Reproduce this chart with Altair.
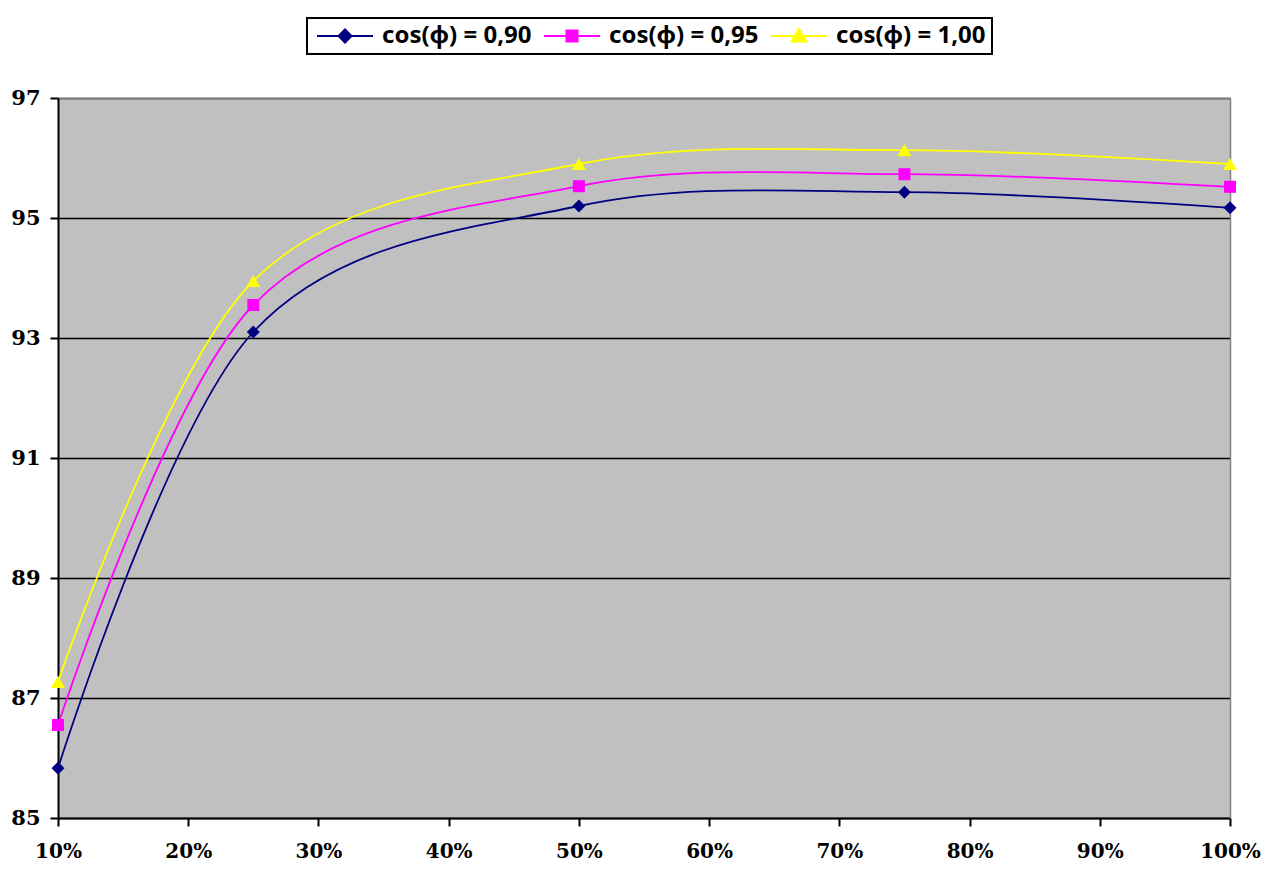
import altair as alt
import pandas as pd

# ---- data ----
load = [0.10, 0.25, 0.50, 0.75, 1.00]
series_names = ["cos(φ) = 0,90", "cos(φ) = 0,95", "cos(φ) = 1,00"]
eff_090 = [85.83, 93.10, 95.20, 95.43, 95.17]
eff_095 = [86.55, 93.55, 95.53, 95.73, 95.52]
eff_100 = [87.27, 93.95, 95.90, 96.13, 95.90]
colors = ["#000080", "#FF00FF", "#FFFF00"]
x_ticks = [0.1, 0.2, 0.3, 0.4, 0.5, 0.6, 0.7, 0.8, 0.9, 1.0]
y_ticks = [85, 87, 89, 91, 93, 95, 97]

rows = []
for name, vals in zip(series_names, [eff_090, eff_095, eff_100]):
    for xv, yv in zip(load, vals):
        rows.append({"series": name, "x": xv, "y": yv})
df = pd.DataFrame(rows)

marker_shapes = ["diamond", "square", "triangle-up"]
marker_sizes = [170, 144, 200]
legend_paths = [
    "M-2.8,0H2.8M0,-0.65L0.65,0L0,0.65L-0.65,0Z",
    "M-2.8,0H2.8M-0.55,-0.55H0.55V0.55H-0.55Z",
    "M-2.8,0H2.8M0,-0.7L0.75,0.55H-0.75Z",
]

tick_font = "DejaVu Serif"
LEG = alt.Legend(
    title=None, orient="none", legendX=249, legendY=-80, direction="horizontal",
    fillColor="white", strokeColor="black", padding=6,
    labelFont="Noto Sans", labelFontSize=24, labelFontWeight="bold", labelColor="black",
    labelLimit=400, symbolSize=400, symbolStrokeWidth=2, symbolOpacity=1,
    symbolOffset=20, labelOffset=25, columnPadding=8,
)

xscale = alt.Scale(domain=[0.1, 1.0], nice=False, zero=False)
yscale = alt.Scale(domain=[85, 97], nice=False, zero=False)
color_scale = alt.Scale(domain=series_names, range=colors)

x_axis = alt.Axis(values=x_ticks, format=".0%", grid=False, title=None,
                  domainColor="black", domainWidth=2, tickColor="black", tickWidth=2,
                  tickSize=8, labelFont=tick_font, labelFontSize=20, labelFontWeight="bold",
                  labelColor="black", labelPadding=15, labelFlush=False, labelOverlap=False)
y_axis = alt.Axis(values=y_ticks, grid=True, gridColor="black", gridWidth=1.5, gridOpacity=1,
                  title=None, domainColor="black", domainWidth=2, tickColor="black",
                  tickWidth=2, tickSize=8, labelFont=tick_font, labelFontSize=21,
                  labelFontWeight="bold", labelColor="black", labelPadding=10)

base = alt.Chart(df)

lines = base.mark_line(interpolate="cardinal", strokeWidth=1.8).encode(
    x=alt.X("x:Q", scale=xscale, axis=x_axis),
    y=alt.Y("y:Q", scale=yscale, axis=y_axis),
    stroke=alt.Stroke("series:N", scale=color_scale, legend=LEG),
    detail="series:N",
)

point_layers = []
for name, shp, sz in zip(series_names, marker_shapes, marker_sizes):
    point_layers.append(
        base.transform_filter(alt.datum.series == name)
        .mark_point(filled=True, shape=shp, size=sz, opacity=1)
        .encode(
            x=alt.X("x:Q", scale=xscale, axis=None),
            y=alt.Y("y:Q", scale=yscale, axis=None),
            fill=alt.Fill("series:N", scale=color_scale, legend=LEG),
        )
    )

border_axis_x = alt.Axis(orient="top", labels=False, ticks=False, grid=False, title=None,
                         domainColor="#808080", domainWidth=1.5)
border_axis_y = alt.Axis(orient="right", labels=False, ticks=False, grid=False, title=None,
                         domainColor="#808080", domainWidth=1.5)
carrier = base.mark_point(filled=True, opacity=0).encode(
    x=alt.X("x:Q", scale=xscale, axis=border_axis_x),
    y=alt.Y("y:Q", scale=yscale, axis=border_axis_y),
    fill=alt.Fill("series:N", scale=color_scale, legend=LEG),
    stroke=alt.Stroke("series:N", scale=color_scale, legend=LEG),
    shape=alt.Shape("series:N", scale=alt.Scale(domain=series_names, range=legend_paths),
                    legend=LEG),
)

chart = (
    alt.layer(lines, *point_layers, carrier)
    .resolve_axis(x="independent", y="independent")
    .properties(
        width=1172, height=720,
        autosize=alt.AutoSizeParams(type="none"),
        padding={"left": 50, "top": 90, "right": 36, "bottom": 44},
        background="white",
    )
    .configure_view(fill="#C0C0C0", stroke=None)
    .configure_legend(strokeWidth=2)
)

chart.save("out.html", embed_options={"renderer": "svg", "actions": False})
